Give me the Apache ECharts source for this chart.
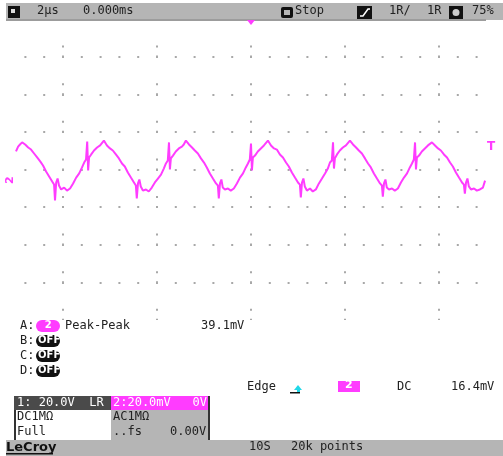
<!DOCTYPE html>
<html>
<head>
<meta charset="utf-8">
<script src="https://cdn.jsdelivr.net/npm/echarts@6/dist/echarts.min.js"></script>
<style>
  html, body { margin: 0; padding: 0; background: #fff; }
  #box { width: 503px; height: 456px; }
</style>
</head>
<body>
<div id="box"></div>
<script>
// channel 2 trace, time in us, level in mV (2us/div, 20mV/div)
var timeUs = [
  0.00, 0.09, 0.17,
  0.26, 0.39, 0.52, 0.64, 0.77, 0.90, 1.03, 1.15, 1.28, 1.41, 1.54, 1.62, 1.66, 1.71, 1.77, 1.83, 1.92,
  2.05, 2.17, 2.30, 2.43, 2.56, 2.69, 2.81, 2.90, 2.98, 3.03, 3.07, 3.11, 3.20, 3.32, 3.45, 3.58, 3.66,
  3.74, 3.87, 4.00, 4.12, 4.25, 4.38, 4.51, 4.63, 4.76, 4.89, 5.02, 5.10, 5.14, 5.19, 5.25, 5.31, 5.40,
  5.53, 5.65, 5.78, 5.91, 6.04, 6.17, 6.29, 6.38, 6.46, 6.51, 6.55, 6.59, 6.68, 6.80, 6.93, 7.06, 7.14,
  7.23, 7.36, 7.49, 7.61, 7.74, 7.87, 8.00, 8.12, 8.25, 8.38, 8.51, 8.59, 8.63, 8.68, 8.74, 8.80, 8.89,
  9.02, 9.14, 9.27, 9.40, 9.53, 9.66, 9.78, 9.87, 9.95, 10.00, 10.04, 10.08, 10.17, 10.29, 10.42, 10.55, 10.63,
  10.72, 10.85, 10.98, 11.10, 11.23, 11.36, 11.49, 11.61, 11.74, 11.87, 12.00, 12.08, 12.12, 12.17, 12.23, 12.29, 12.38,
  12.51, 12.63, 12.76, 12.89, 13.02, 13.15, 13.27, 13.36, 13.44, 13.49, 13.53, 13.57, 13.66, 13.78, 13.91, 14.04, 14.12,
  14.21, 14.34, 14.47, 14.59, 14.72, 14.85, 14.98, 15.10, 15.23, 15.36, 15.49, 15.57, 15.61, 15.66, 15.72, 15.78, 15.87,
  16.00, 16.12, 16.25, 16.38, 16.51, 16.64, 16.76, 16.85, 16.93, 16.98, 17.02, 17.06, 17.15, 17.27, 17.40, 17.53, 17.61,
  17.70, 17.83, 17.96, 18.08, 18.21, 18.34, 18.47, 18.59, 18.72, 18.85, 18.98, 19.06, 19.10, 19.15, 19.21, 19.27, 19.36,
  19.49, 19.61, 19.74, 19.87, 19.96
];
var ch2mV = [
  9.6, 12.2, 13.3,
  14.4, 13.3, 11.7, 10.6, 8.5, 6.4, 4.3, 2.1, -1.1, -3.7, -6.4, -8.0, -16.5, -6.9, -4.8, -8.5, -10.6,
  -9.6, -11.2, -10.1, -7.4, -4.3, -2.1, 1.1, 3.7, 5.3, 14.9, -0.5, 6.4, 8.0, 10.1, 11.7, 12.8, 13.8,
  15.4, 12.8, 11.2, 10.1, 8.0, 5.9, 3.2, 1.6, -1.6, -4.3, -6.9, -8.5, -15.4, -7.4, -5.3, -9.0, -11.2,
  -10.6, -11.7, -9.6, -6.9, -4.8, -2.7, 0.5, 3.2, 4.8, 14.4, 0.0, 5.9, 7.4, 9.6, 11.2, 12.2, 13.3,
  15.4, 13.3, 11.7, 10.1, 8.5, 5.9, 3.7, 1.1, -2.1, -4.8, -7.4, -8.5, -15.4, -7.4, -5.3, -9.6, -10.6,
  -10.1, -11.2, -10.1, -7.4, -4.3, -2.1, 1.1, 3.2, 5.3, 13.8, -0.5, 6.4, 7.4, 9.6, 11.2, 12.8, 13.8,
  15.4, 12.8, 11.2, 10.6, 8.0, 6.4, 3.7, 1.6, -1.6, -4.3, -6.9, -8.0, -14.9, -6.9, -4.8, -9.0, -11.2,
  -10.1, -11.7, -10.6, -7.4, -4.8, -2.1, 0.5, 3.7, 4.8, 14.4, 0.5, 5.9, 8.0, 10.1, 11.7, 12.8, 13.8,
  15.4, 13.3, 11.7, 10.1, 8.5, 5.9, 3.2, 1.1, -2.1, -4.8, -7.4, -8.5, -14.4, -7.4, -5.3, -9.6, -10.6,
  -10.1, -11.2, -10.1, -6.9, -4.3, -2.1, 1.1, 3.2, 5.3, 14.4, 0.0, 6.4, 7.4, 9.6, 11.2, 12.8, 13.8,
  14.4, 12.8, 11.2, 10.1, 8.0, 6.4, 3.7, 1.6, -1.6, -4.3, -6.9, -8.0, -12.8, -6.9, -4.8, -9.0, -10.6,
  -10.1, -11.2, -10.6, -9.6, -5.9
];

var topBar = ['2µs', '0.000ms', 'Stop', '1R/', '1R', '75%'];
var measure = ['A:', 'Peak-Peak', '39.1mV'];
var trigInfo = ['Edge', '2', 'DC', '16.4mV'];
var chanInfo = ['1: 20.0V  LR', '2:20.0mV   0V', 'DC1MΩ', 'AC1MΩ', 'Full', '..fs', '0.00V'];

var MAG = '#ff3cff';
var FONT = '12px "DejaVu Sans Mono"';
var gridGray = '#a8a8a8';

function txt(x, y, s, color, font) {
    return { type: 'text', left: x, top: y, z: 10,
        style: { text: s, fill: color || '#222', font: font || FONT } };
}
function box(x, y, w, h, color, r) {
    return { type: 'rect', z: 5, shape: { x: x, y: y, width: w, height: h, r: r || 0 },
        style: { fill: color } };
}
function pill(x, y, label, color) {
    return [
        box(x, y, 24, 12, color, 6),
        { type: 'text', z: 10, left: x + 12 - label.length * 3.3, top: y,
          style: { text: label, fill: '#fff', font: 'bold 10px "DejaVu Sans"' } }
    ];
}

var trace = timeUs.map(function (t, i) { return [t, ch2mV[i]]; });

var g = [];
// top status bar
g.push(box(6, 3, 497, 17, '#b5b5b5'));
g.push(box(6, 19, 480, 2, '#9c9c9c'));
g.push(box(8, 6, 12, 12, '#111'));
g.push(box(11, 9, 4, 4, '#ddd'));
g.push(txt(37, 5, topBar[0]));
g.push(txt(83, 5, topBar[1]));
g.push(box(281, 7, 12, 11, '#111', 2));
g.push(box(284, 10, 6, 5, '#b5b5b5'));
g.push(txt(295, 5, topBar[2]));
g.push(box(357, 6, 15, 13, '#111'));
g.push({ type: 'polyline', z: 10, shape: { points: [[360, 16], [363, 16], [368, 9], [370, 9]] },
    style: { stroke: '#fff', lineWidth: 1.5 } });
g.push(txt(389, 5, topBar[3]));
g.push(txt(427, 5, topBar[4]));
g.push(box(449, 6, 14, 13, '#111'));
g.push({ type: 'circle', z: 10, shape: { cx: 456, cy: 12.5, r: 3.5 }, style: { fill: '#ccc' } });
g.push(txt(472, 5, topBar[5]));

// trigger position, channel marker and trigger level marker
g.push({ type: 'polygon', z: 10, shape: { points: [[247, 20], [255, 20], [251, 25]] }, style: { fill: MAG } });
g.push({ type: 'text', z: 10, x: 5, y: 184, rotation: Math.PI / 2,
    style: { text: '2', fill: MAG, font: 'bold 11px "DejaVu Sans"' } });
g.push(txt(487, 141, 'T', MAG, 'bold 12px "DejaVu Sans"'));

// measurement lines
g.push(txt(20, 320, measure[0]));
g = g.concat(pill(36, 320, '2', MAG));
g.push(txt(65, 320, measure[1]));
g.push(txt(201, 320, measure[2]));
['B:', 'C:', 'D:'].forEach(function (s, i) {
    g.push(txt(20, 335 + i * 15, s));
    g = g.concat(pill(36, 335 + i * 15, 'OFF', '#111'));
});

// trigger info
g.push(txt(247, 381, trigInfo[0]));
g.push(box(290, 392, 10, 1.5, '#111'));
g.push({ type: 'polygon', z: 10, shape: { points: [[298, 385], [302, 390], [294, 390]] }, style: { fill: '#20d8e8' } });
g.push(box(297, 389, 3, 3, '#20d8e8'));
g.push(box(338, 381, 22, 11, MAG));
g.push(txt(345, 380, trigInfo[1], '#fff', 'bold 11px "DejaVu Sans"'));
g.push(txt(397, 381, trigInfo[2]));
g.push(txt(451, 381, trigInfo[3]));

// channel setup box
g.push(box(14, 396, 196, 44, '#b5b5b5'));
g.push(box(14, 396, 97, 14, '#4a4a4a'));
g.push(box(111, 396, 97, 14, MAG));
g.push(box(14, 410, 97, 30, '#fff'));
g.push(box(208, 396, 2, 44, '#333'));
g.push(box(14, 410, 2, 30, '#333'));
g.push(txt(17, 397, chanInfo[0], '#fff'));
g.push(txt(113, 397, chanInfo[1], '#fff'));
g.push(txt(17, 411, chanInfo[2]));
g.push(txt(113, 411, chanInfo[3]));
g.push(txt(17, 426, chanInfo[4]));
g.push(txt(113, 426, chanInfo[5]));
g.push(txt(170, 426, chanInfo[6]));

// bottom bar
g.push(box(6, 440, 497, 16, '#b5b5b5'));
g.push(txt(6, 441, 'LeCroy', '#111', 'bold 13px "DejaVu Sans"'));
g.push(box(6, 453, 47, 1.5, '#111'));
g.push(txt(249, 441, '10S'));
g.push(txt(291, 441, '20k points'));

var chart = echarts.init(document.getElementById('box'));
var option = {
    animation: false,
    backgroundColor: '#fff',
    grid: { left: 16, right: 17, top: 19, bottom: 136 },
    xAxis: {
        type: 'value', min: 0, max: 20, interval: 2,
        axisLine: { show: false }, axisTick: { show: false }, axisLabel: { show: false },
        splitLine: { show: true, lineStyle: {
            color: ['transparent', gridGray], width: 2,
            type: [2, 8, 2, 25.6], dashOffset: 11 } }
    },
    yAxis: {
        type: 'value', min: -80, max: 80, interval: 20,
        axisLine: { show: false }, axisTick: { show: false }, axisLabel: { show: false },
        splitLine: { show: true, lineStyle: {
            color: ['transparent', gridGray, gridGray, gridGray, gridGray, gridGray, gridGray, gridGray, 'transparent'],
            width: 2, type: [2, 16.8], dashOffset: 10.4 } }
    },
    graphic: g,
    series: [{
        type: 'line',
        data: trace,
        showSymbol: false,
        lineStyle: { color: MAG, width: 2 },
        z: 3
    }]
};
chart.setOption(option);
</script>
</body>
</html>
